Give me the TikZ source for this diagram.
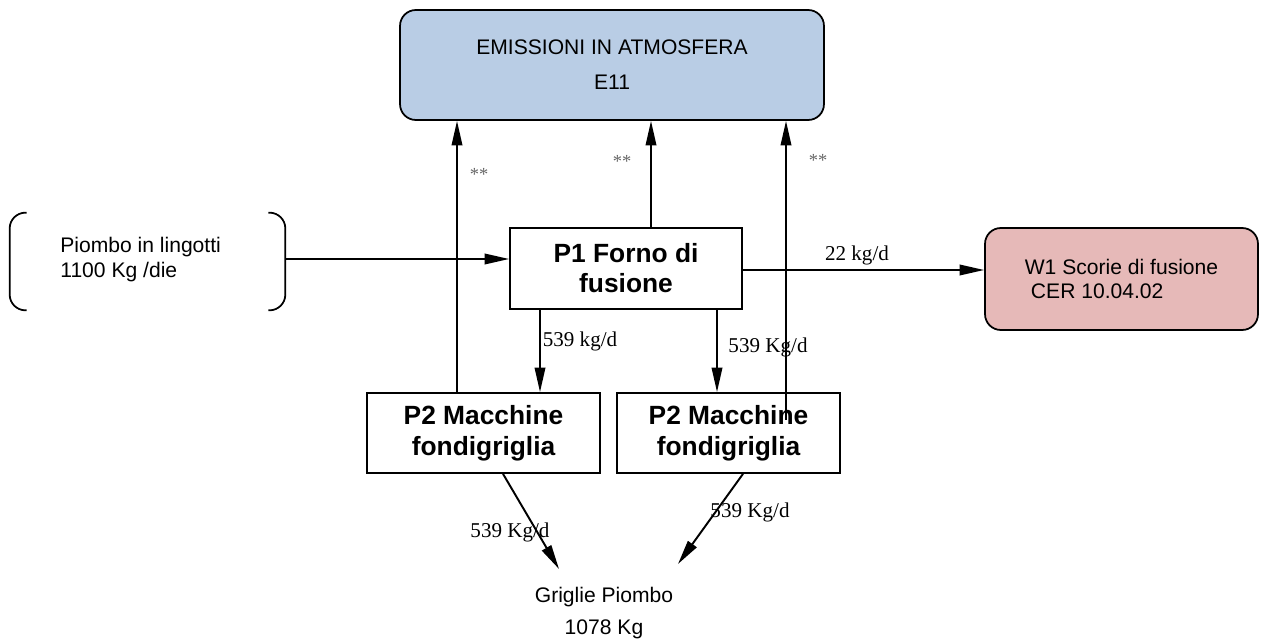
\documentclass[tikz,border=0pt]{standalone}
\usepackage{fontspec}
\setmainfont{Liberation Serif}
\setsansfont{Liberation Sans}
\usetikzlibrary{arrows.meta}
\definecolor{emisblue}{HTML}{B9CDE5}
\definecolor{wastepink}{HTML}{E6B9B8}
\definecolor{stargray}{HTML}{666666}
\tikzset{
  flow/.style={line width=1.1pt, -{Triangle[length=14pt,width=6pt]}},
  plain/.style={line width=1pt},
  procbox/.style={draw, line width=1pt, align=center, inner sep=0pt,
    font=\sffamily\bfseries\fontsize{15}{17}\selectfont},
  roundbox/.style={draw, line width=1pt, rounded corners=9pt, inner sep=0pt},
  qty/.style={font=\fontsize{12}{14}\selectfont, inner sep=0pt},
  stars/.style={font=\fontsize{10.5}{13}\selectfont, text=stargray, inner sep=0pt},
  plaintext/.style={font=\sffamily\fontsize{12}{14}\selectfont, inner sep=0pt}
}
\begin{document}
\begin{tikzpicture}[x=0.02cm, y=-0.02cm]
\useasboundingbox (0,0) rectangle (1267,641);

% Destination of the emissions
\node[roundbox, fill=emisblue, minimum width=8.48cm, minimum height=2.2cm,
      align=center, font=\sffamily\fontsize{12}{20}\selectfont]
  (em) at (612,65) {EMISSIONI IN ATMOSFERA\\E11};

% Lead ingot input (bracketed)
\node[minimum width=5.5cm, minimum height=1.94cm, inner sep=0pt] (bk) at (147.5,261.5) {};
\node[plaintext, align=left, anchor=west] (bktxt) at (60,259.5) {Piombo in lingotti\\1100 Kg /die};
\draw[plain, rounded corners=9pt]
  ([xshift=0.34cm]bk.north west) -- (bk.north west) -- (bk.south west) -- ([xshift=0.34cm]bk.south west);
\draw[plain, rounded corners=9pt]
  ([xshift=-0.34cm]bk.north east) -- (bk.north east) -- (bk.south east) -- ([xshift=-0.34cm]bk.south east);

% Process units
\node[procbox, minimum width=4.64cm, minimum height=1.62cm] (p1) at (626,268.5) {P1 Forno di\\fusione};
\node[procbox, minimum width=4.66cm, minimum height=1.6cm, font=\sffamily\bfseries\fontsize{15}{17.5}\selectfont] (p2l) at (483.5,433) {P2 Macchine\\fondigriglia};
\node[procbox, minimum width=4.46cm, minimum height=1.6cm, font=\sffamily\bfseries\fontsize{15}{17.5}\selectfont] (p2r) at (728.5,433) {P2 Macchine\\fondigriglia};

% Slag waste
\node[roundbox, fill=wastepink, minimum width=5.46cm, minimum height=2.04cm,
      align=left, font=\sffamily\fontsize{12}{14}\selectfont]
  (w1) at (1121.5,279) {W1 Scorie di fusione\\\hspace{3.5pt}CER 10.04.02};

% Output product
\node[plaintext, align=center, font=\sffamily\fontsize{12}{18}\selectfont] (gr) at (604,613) {Griglie Piombo\\1078 Kg};

% Column and row positions of the connectors
\coordinate (ca) at (457,0);
\coordinate (cb) at (651,0);
\coordinate (cc) at (786,0);
\coordinate (cd) at (540,0);
\coordinate (ce) at (717,0);
\coordinate (rin) at (0,259);
\coordinate (rout) at (0,270);
\coordinate (e3) at (786,420);
\coordinate (gl) at (559,569);
\coordinate (gr2) at (678,564);
\coordinate (sl) at (503,0);
\coordinate (sr) at (743,0);

% Emissions to atmosphere
\draw[flow] (p2l.north -| ca) -- (em.south -| ca);
\draw[flow] (p1.north -| cb) -- (em.south -| cb);
\draw[flow] (e3) -- (em.south -| cc);
\node[stars] (s1) at (479,174) {**};
\node[stars] (s2) at (622,161) {**};
\node[stars] (s3) at (818,160) {**};

% Main material flows
\draw[flow] (bk.east |- rin) -- (p1.west |- rin);
\draw[flow] (p1.east |- rout) -- (w1.west |- rout);
\node[qty] (q0) at (857,255) {22 kg/d};

\draw[flow] (p1.south -| cd) -- (p2l.north -| cd);
\node[qty] (q1) at (580,341) {539 kg/d};
\draw[flow] (p1.south -| ce) -- (p2r.north -| ce);
\node[qty] (q2) at (768,347) {539 Kg/d};

\draw[flow] (p2l.south -| sl) -- (gl);
\node[qty] (q3) at (510,532) {539 Kg/d};
\draw[flow] (p2r.south -| sr) -- (gr2);
\node[qty] (q4) at (750,512) {539 Kg/d};
\end{tikzpicture}
\end{document}
